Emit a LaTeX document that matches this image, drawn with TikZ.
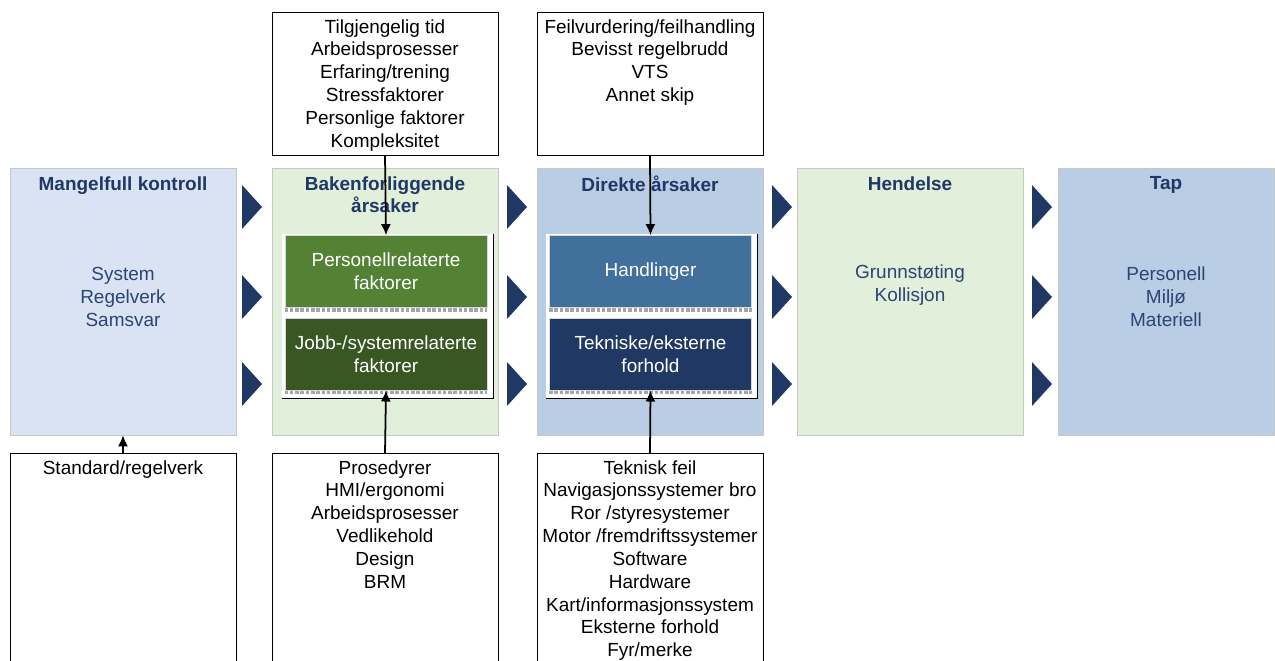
\documentclass[tikz,border=0pt]{standalone}
\usepackage{fontspec}
\setmainfont{Liberation Sans}
\usetikzlibrary{arrows.meta,positioning,calc}

\definecolor{navy}{HTML}{1F3864}
\definecolor{bodyblue}{HTML}{2B4574}
\definecolor{lavfill}{HTML}{DAE3F3}
\definecolor{greenfill}{HTML}{E2EFDA}
\definecolor{bluefill}{HTML}{B9CDE5}
\definecolor{midgreen}{HTML}{548235}
\definecolor{darkgreen}{HTML}{385723}
\definecolor{steel}{HTML}{41709C}

\begin{document}
\begin{tikzpicture}[
    x=0.02cm, y=-0.02cm,
    every node/.style={font=\fontsize{10.8}{13}\selectfont, align=center},
    col/.style={draw=black!22, minimum width=4.52cm, minimum height=5.34cm, inner sep=0pt},
    coltitle/.style={font=\bfseries\fontsize{10.8}{13}\selectfont, text=navy, anchor=north, inner sep=0pt},
    colbody/.style={text=bodyblue},
    frame/.style={fill=white, minimum width=4.22cm, minimum height=3.28cm, inner sep=0pt},
    factor/.style={draw=black!15, text=white, minimum width=4.04cm, minimum height=1.44cm, inner sep=0pt},
    listbox/.style={draw, minimum width=4.52cm, inner sep=0pt},
    listtext/.style={anchor=north, inner sep=0pt},
    arr/.style={-{Latex[length=2.2mm,width=2mm]}, line width=1pt},
    chevron/.style={fill=navy}
]
\useasboundingbox (0,0) rectangle (1275,661);

% kolonner
\node[col, fill=lavfill] (ctrl) at (123,301.5) {};
\node[col, fill=greenfill] (bak) at (385,301.5) {};
\node[col, fill=bluefill] (dir) at (650,301.5) {};
\node[col, fill=greenfill] (hend) at (910,301.5) {};
\node[col, fill=bluefill, minimum width=4.32cm] (tap) at (1166,301.5) {};

\node[coltitle] (ctrlt) at (123,176) {Mangelfull kontroll};
\node[coltitle] (bakt) at (385,176) {Bakenforliggende\\årsaker};
\node[coltitle] (dirt) at (650,176) {Direkte årsaker};
\node[coltitle] (hendt) at (910,176) {Hendelse};
\node[coltitle] (tapt) at (1166,176) {Tap};

\node[colbody] (ctrlb) at (123,297) {System\\Regelverk\\Samsvar};
\node[colbody] (hendb) at (910,285) {Grunnstøting\\Kollisjon};
\node[colbody] (tapb) at (1166,297) {Personell\\Miljø\\Materiell};

% piler mellom kolonnene
\foreach \x in {242,507,772,1032}
  \foreach \y in {207,297,384}
    \fill[chevron] (\x,\y-22) -- (\x+20,\y) -- (\x,\y+22) -- cycle;

% faktorbokser
\node[frame] (bakf) at (387.5,316) {};
\draw (bakf.north east) -- (bakf.south east) -- (bakf.south west);
\node[factor, fill=midgreen] (pers) at (386,271.5) {Personellrelaterte\\faktorer};
\node[factor, fill=darkgreen, below=0.2cm of pers] (jobb) {Jobb-/systemrelaterte\\faktorer};

\node[frame] (dirf) at (651.5,316) {};
\draw (dirf.north east) -- (dirf.south east) -- (dirf.south west);
\node[factor, fill=steel] (hand) at (650.5,271.5) {Handlinger};
\node[factor, fill=navy, below=0.2cm of hand] (tek) {Tekniske/eksterne\\forhold};

\foreach \b in {pers,jobb,hand,tek}
  \draw[black!35, densely dotted, line width=2pt] ([yshift=-1.2pt]\b.south west) -- ([yshift=-1.2pt]\b.south east);

% lister over
\node[listbox, minimum height=2.86cm] (tid) at (385,83.5) {};
\node[listtext] (tidt) at (385,19) {Tilgjengelig tid\\Arbeidsprosesser\\Erfaring/trening\\Stressfaktorer\\Personlige faktorer\\Kompleksitet};
\node[listbox, minimum height=2.86cm] (feil) at (650,83.5) {};
\node[listtext] (feilt) at (650,19) {Feilvurdering/feilhandling\\Bevisst regelbrudd\\VTS\\Annet skip};

% lister under
\node[listbox, anchor=north, minimum height=4.3cm] (std) at (123,453) {};
\node[listtext] (stdt) at (123,460) {Standard/regelverk};
\node[listbox, anchor=north, minimum height=4.3cm] (pros) at (385,453) {};
\node[listtext] (prost) at (385,460) {Prosedyrer\\HMI/ergonomi\\Arbeidsprosesser\\Vedlikehold\\Design\\BRM};
\node[listbox, anchor=north, minimum height=4.3cm] (tekf) at (650,453) {};
\node[listtext] (tekft) at (650,460) {Teknisk feil\\Navigasjonssystemer bro\\Ror /styresystemer\\Motor /fremdriftssystemer\\Software\\Hardware\\Kart/informasjonssystem\\Eksterne forhold\\Fyr/merke};

% koblinger
\draw[arr] (tid.south) -- (pers.north);
\draw[arr] (feil.south) -- (hand.north);
\draw[arr] (std.north) -- (ctrl.south);
\draw[arr] (pros.north) -- (jobb.south);
\draw[arr] (tekf.north) -- (tek.south);
\end{tikzpicture}
\end{document}
